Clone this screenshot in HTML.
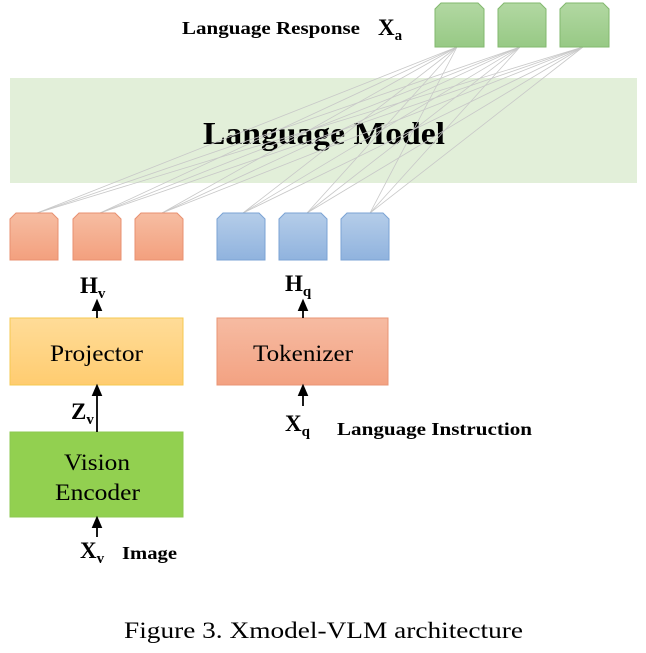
<!DOCTYPE html>
<html><head><style>
body{margin:0;background:#fff;width:646px;height:648px;overflow:hidden}
svg text{font-family:"Liberation Serif",serif}
</style></head><body>
<svg width="646" height="648" viewBox="0 0 646 648" xmlns="http://www.w3.org/2000/svg">
<defs>
<linearGradient id="g" x1="0" y1="0" x2="0" y2="1"><stop offset="0" stop-color="#b2d8a2"/><stop offset="1" stop-color="#97c985"/></linearGradient>
<linearGradient id="o" x1="0" y1="0" x2="0" y2="1"><stop offset="0" stop-color="#f6bda2"/><stop offset="1" stop-color="#f3a07e"/></linearGradient>
<linearGradient id="b" x1="0" y1="0" x2="0" y2="1"><stop offset="0" stop-color="#b5cde9"/><stop offset="1" stop-color="#90b3de"/></linearGradient>
<linearGradient id="p" x1="0" y1="0" x2="0" y2="1"><stop offset="0" stop-color="#ffdc98"/><stop offset="1" stop-color="#ffcc70"/></linearGradient>
<linearGradient id="t" x1="0" y1="0" x2="0" y2="1"><stop offset="0" stop-color="#f6bba2"/><stop offset="1" stop-color="#f3a282"/></linearGradient>
<marker id="a" markerWidth="8" markerHeight="8" refX="4" refY="4" orient="auto"><path d="M0,1 L7,4 L0,7 Z" fill="#000"/></marker>
</defs>
<rect x="10" y="78" width="627" height="105" fill="#e2efd9"/>
<text x="203" y="144" font-size="32" font-weight="bold" textLength="242" lengthAdjust="spacingAndGlyphs">Language Model</text>
<g stroke="#c8c8c8" stroke-width="0.8">
<line x1="37" y1="213" x2="457" y2="47"/><line x1="37" y1="213" x2="520" y2="47"/><line x1="37" y1="213" x2="583" y2="47"/>
<line x1="100" y1="213" x2="457" y2="47"/><line x1="100" y1="213" x2="520" y2="47"/><line x1="100" y1="213" x2="583" y2="47"/>
<line x1="162" y1="213" x2="457" y2="47"/><line x1="162" y1="213" x2="520" y2="47"/><line x1="162" y1="213" x2="583" y2="47"/>
<line x1="243" y1="213" x2="457" y2="47"/><line x1="243" y1="213" x2="520" y2="47"/><line x1="243" y1="213" x2="583" y2="47"/>
<line x1="307" y1="213" x2="457" y2="47"/><line x1="307" y1="213" x2="520" y2="47"/><line x1="307" y1="213" x2="583" y2="47"/>
<line x1="370" y1="213" x2="457" y2="47"/><line x1="370" y1="213" x2="520" y2="47"/><line x1="370" y1="213" x2="583" y2="47"/>
</g>
<g stroke="#82b86e" stroke-width="1" fill="url(#g)">
<path d="M435,47 V9 L441,3 H478 L484,9 V47 Z"/>
<path d="M498,47 V9 L504,3 H540 L546,9 V47 Z"/>
<path d="M560,47 V9 L566,3 H603 L609,9 V47 Z"/>
</g>
<g stroke="#e89070" stroke-width="1" fill="url(#o)">
<path d="M10,260 V219 L16,213 H52 L58,219 V260 Z"/>
<path d="M73,260 V219 L79,213 H115 L121,219 V260 Z"/>
<path d="M135,260 V219 L141,213 H177 L183,219 V260 Z"/>
</g>
<g stroke="#7ba3d4" stroke-width="1" fill="url(#b)">
<path d="M217,260 V219 L223,213 H259 L265,219 V260 Z"/>
<path d="M279,260 V219 L285,213 H321 L327,219 V260 Z"/>
<path d="M341,260 V219 L347,213 H383 L389,219 V260 Z"/>
</g>
<text x="182" y="34" font-size="18" font-weight="bold" textLength="178" lengthAdjust="spacingAndGlyphs">Language Response</text>
<text x="378" y="35" font-size="23" font-weight="bold">X<tspan font-size="15" dy="5">a</tspan></text>
<rect x="10" y="318" width="173" height="67" fill="url(#p)" stroke="#f5c850"/>
<text x="50" y="361" font-size="23" textLength="93" lengthAdjust="spacingAndGlyphs">Projector</text>
<rect x="217" y="318" width="171" height="67" fill="url(#t)" stroke="#e89474"/>
<text x="253" y="361" font-size="23" textLength="100" lengthAdjust="spacingAndGlyphs">Tokenizer</text>
<rect x="10" y="432" width="173" height="85" fill="#92d050" stroke="#8cc850"/>
<text x="64" y="470" font-size="23" textLength="66" lengthAdjust="spacingAndGlyphs">Vision</text>
<text x="55" y="500" font-size="23" textLength="85" lengthAdjust="spacingAndGlyphs">Encoder</text>
<g stroke="#000" stroke-width="1.8" marker-end="url(#a)">
<line x1="97" y1="318" x2="97" y2="304"/>
<line x1="97" y1="432" x2="97" y2="389"/>
<line x1="97" y1="537" x2="97" y2="521"/>
<line x1="303" y1="318" x2="303" y2="304"/>
<line x1="303" y1="406" x2="303" y2="389"/>
</g>
<text x="80" y="293" font-size="23" font-weight="bold">H<tspan font-size="15" dy="5">v</tspan></text>
<text x="285" y="291" font-size="23" font-weight="bold">H<tspan font-size="15" dy="5">q</tspan></text>
<text x="71" y="419" font-size="23" font-weight="bold">Z<tspan font-size="15" dy="5">v</tspan></text>
<text x="80" y="558" font-size="23" font-weight="bold">X<tspan font-size="15" dy="5">v</tspan></text>
<text x="122" y="559" font-size="18" font-weight="bold" textLength="55" lengthAdjust="spacingAndGlyphs">Image</text>
<text x="285" y="431" font-size="23" font-weight="bold">X<tspan font-size="15" dy="5">q</tspan></text>
<text x="337" y="435" font-size="18" font-weight="bold" textLength="195" lengthAdjust="spacingAndGlyphs">Language Instruction</text>
<text x="124" y="638" font-size="23" textLength="399" lengthAdjust="spacingAndGlyphs">Figure 3. Xmodel-VLM architecture</text>
</svg>
</body></html>
